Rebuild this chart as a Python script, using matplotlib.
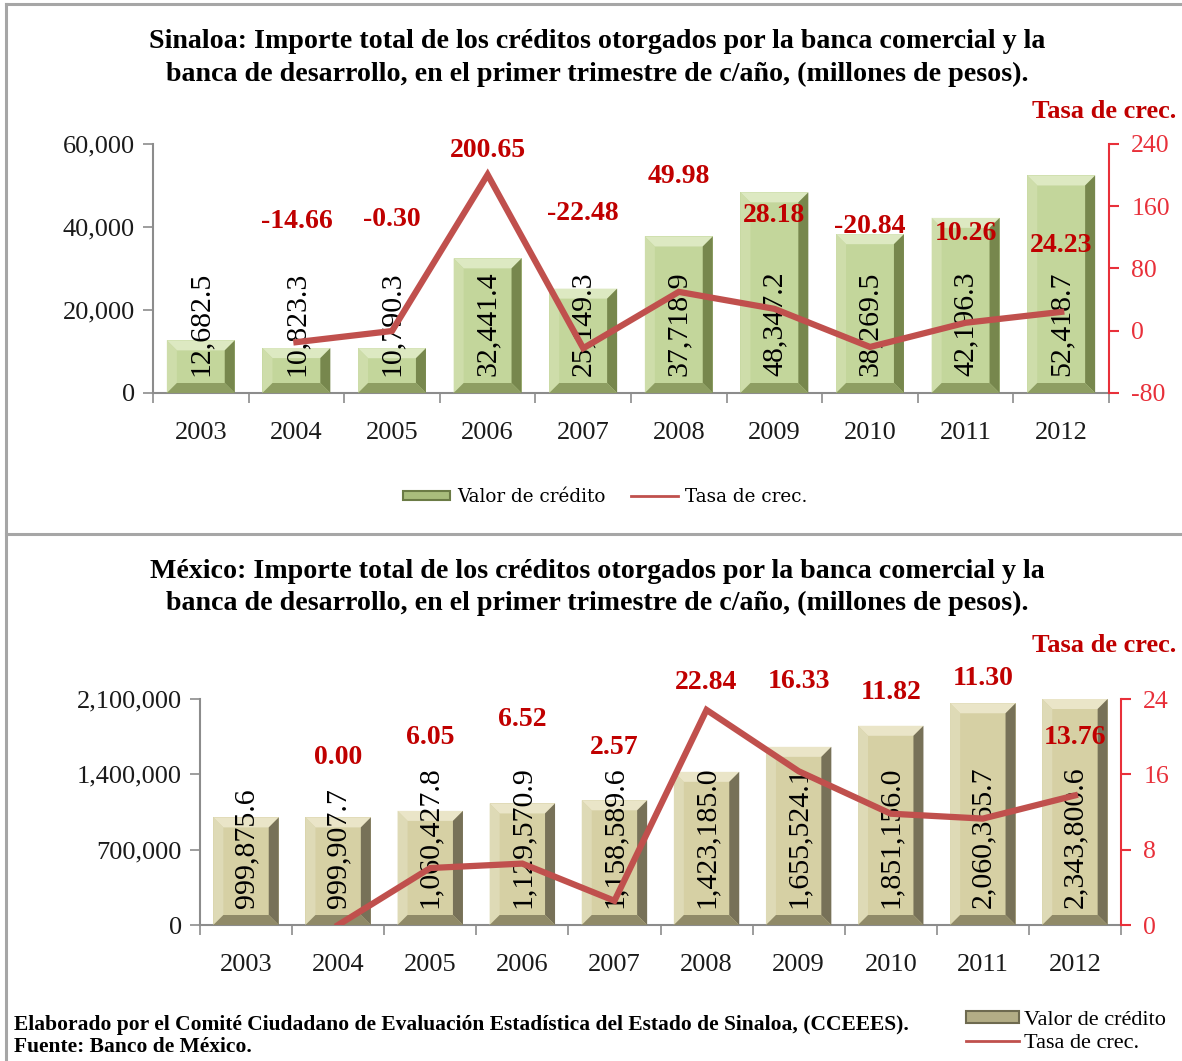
import matplotlib
matplotlib.use('Agg')
import matplotlib.pyplot as plt
from matplotlib.patches import Polygon, Rectangle, Patch
from matplotlib.lines import Line2D
from matplotlib.ticker import FuncFormatter

plt.rcParams['font.family'] = ['Liberation Serif', 'DejaVu Serif']

years = ['2003', '2004', '2005', '2006', '2007', '2008', '2009', '2010', '2011', '2012']

# Sinaloa
sin_credito = [12682.5, 10823.3, 10790.3, 32441.4, 25149.3, 37718.9, 48347.2, 38269.5, 42196.3, 52418.7]
sin_tasa = [None, -14.66, -0.30, 200.65, -22.48, 49.98, 28.18, -20.84, 10.26, 24.23]
sin_tasa_lbl = ['', '-14.66', '-0.30', '200.65', '-22.48', '49.98', '28.18', '-20.84', '10.26', '24.23']

# Mexico
mex_credito = [999875.6, 999907.7, 1060427.8, 1129570.9, 1158589.6, 1423185.0, 1655524.1, 1851156.0, 2060365.7, 2343800.6]
mex_tasa = [None, 0.00, 6.05, 6.52, 2.57, 22.84, 16.33, 11.82, 11.30, 13.76]
mex_tasa_lbl = ['', '0.00', '6.05', '6.52', '2.57', '22.84', '16.33', '11.82', '11.30', '13.76']

# where the growth labels sit (right-axis units)
sin_lbl_y = [None, 141, 143.6, 232, 151, 197.6, 148.7, 134.6, 125.6, 110]
mex_lbl_y = [None, 17.8, 19.9, 21.8, 18.8, 25.8, 25.9, 24.7, 26.2, 19.9]

W, H = 1182, 1061
fig = plt.figure(figsize=(W / 100, H / 100), dpi=100)

RED_LINE = '#C0504D'
RED_LBL = '#C00000'
RED_AX = '#E8303A'
GRAY = '#8C8C8C'
TXT = '#1A1A1A'

green = dict(face='#C3D69B', top='#DDE9C2', left='#CEDDAA', right='#77874D', bottom='#8E9E62')
khaki = dict(face='#D6D0A4', top='#EAE5C8', left='#DEDAB6', right='#777158', bottom='#908A68')


def px_box(l, t, r, b):
    return [l / W, 1 - b / H, (r - l) / W, (b - t) / H]


def bevel_bars(ax, vals, ymax, cols, bw=0.71, bev=10):
    pos = ax.get_position()
    dx = bev * 10 / (pos.width * W)
    dy = bev * ymax / (pos.height * H)
    for i, v in enumerate(vals):
        x0 = i + 0.5 - bw / 2
        x1 = x0 + bw
        y0 = 0
        y1 = min(v, ymax)
        ax.add_patch(Rectangle((x0, y0), bw, y1 - y0, facecolor=cols['face'], edgecolor='none', zorder=2))
        ix0, ix1, iy0, iy1 = x0 + dx, x1 - dx, y0 + dy, y1 - dy
        parts = [
            ([(x0, y1), (x1, y1), (ix1, iy1), (ix0, iy1)], cols['top']),
            ([(x0, y0), (x0, y1), (ix0, iy1), (ix0, iy0)], cols['left']),
            ([(x1, y0), (x1, y1), (ix1, iy1), (ix1, iy0)], cols['right']),
            ([(x0, y0), (x1, y0), (ix1, iy0), (ix0, iy0)], cols['bottom']),
        ]
        for pts, c in parts:
            ax.add_patch(Polygon(pts, closed=True, facecolor=c, edgecolor='none', zorder=3))
        ax.annotate(f'{v:,.1f}', xy=(i + 0.5, 0), xytext=(0, 12), textcoords='offset points',
                    rotation=90, ha='center', va='bottom', fontsize=21.5, color='black', zorder=5)


def make_chart(box, vals, tasa, tasa_lbl, lbl_y, ymax, yticks, rlim, rticks, cols, lw):
    ax = fig.add_axes(box)
    ax.set_xlim(0, 10)
    ax.set_ylim(0, ymax)
    ax.set_yticks(yticks)
    ax.yaxis.set_major_formatter(FuncFormatter(lambda v, p: f'{v:,.0f}'))
    ax.set_xticks(range(11))
    ax.set_xticklabels([])
    ax.set_xticks([i + 0.5 for i in range(10)], minor=True)
    ax.set_xticklabels(years, minor=True)
    ax.tick_params(axis='x', which='minor', length=0, labelsize=19, labelcolor=TXT, pad=21)
    ax.tick_params(axis='x', which='major', length=7, width=1.2, color=GRAY, direction='out')
    ax.tick_params(axis='y', length=7, width=1.2, color=GRAY, labelsize=19, labelcolor=TXT, pad=6)
    for s in ['top', 'right']:
        ax.spines[s].set_visible(False)
    for s in ['left', 'bottom']:
        ax.spines[s].set_color(GRAY)
        ax.spines[s].set_linewidth(1.5)
    bevel_bars(ax, vals, ymax, cols)

    ax2 = ax.twinx()
    ax2.set_ylim(*rlim)
    ax2.set_yticks(rticks)
    ax2.yaxis.set_major_formatter(FuncFormatter(lambda v, p: f'{v:.0f}'))
    ax2.tick_params(axis='y', length=7, width=1.5, color=RED_AX, labelsize=18.5, labelcolor=RED_AX, pad=9)
    for s in ['top', 'left', 'bottom']:
        ax2.spines[s].set_visible(False)
    ax2.spines['right'].set_color(RED_AX)
    ax2.spines['right'].set_linewidth(1.5)
    xs = [i + 0.5 for i, t in enumerate(tasa) if t is not None]
    ys = [t for t in tasa if t is not None]
    ax2.plot(xs, ys, color=RED_LINE, lw=lw, solid_joinstyle='miter', zorder=6)
    for i, t in enumerate(tasa_lbl):
        if t:
            ax2.text(i + 0.5, lbl_y[i], t, ha='center', va='center', fontsize=20,
                     fontweight='bold', color=RED_LBL, zorder=7)
    return ax, ax2


# panel borders
border = dict(color='#A6A6A6', lw=2.2, transform=fig.transFigure)
fig.add_artist(Line2D([6 / W, 6 / W], [0, 1 - 4 / H], **border))
fig.add_artist(Line2D([6 / W, 1], [1 - 4 / H, 1 - 4 / H], **border))
fig.add_artist(Line2D([6 / W, 1], [1 - 534 / H, 1 - 534 / H], **border))

TFS = 20.2
# top chart
fig.text(597 / W, 1 - 42 / H, 'Sinaloa: Importe total de los créditos otorgados por la banca comercial y la',
         ha='center', va='center', fontsize=TFS, fontweight='bold')
fig.text(597 / W, 1 - 74 / H, 'banca de desarrollo, en el primer trimestre de c/año, (millones de pesos).',
         ha='center', va='center', fontsize=TFS, fontweight='bold')
fig.text(1176 / W, 1 - 111 / H, 'Tasa de crec.', ha='right', va='center', fontsize=19,
         fontweight='bold', color=RED_LBL)
make_chart(px_box(153, 144, 1109, 393), sin_credito, sin_tasa, sin_tasa_lbl, sin_lbl_y,
           60000, [0, 20000, 40000, 60000], (-80, 240), [-80, 0, 80, 160, 240], green, 4.5)

top_handles = [Patch(facecolor='#A9BD7C', edgecolor='#6B7B45', lw=1.5),
               Line2D([], [], color=RED_LINE, lw=2)]
fig.legend(top_handles, ['Valor de crédito', 'Tasa de crec.'], loc='center',
           bbox_to_anchor=(605 / W, 1 - 497 / H), ncol=2, frameon=False,
           prop={'family': 'DejaVu Serif', 'size': 13.2}, handlelength=2.6, handleheight=0.45,
           columnspacing=1.4, handletextpad=0.35)

# bottom chart
fig.text(597 / W, 1 - 572 / H, 'México: Importe total de los créditos otorgados por la banca comercial y la',
         ha='center', va='center', fontsize=TFS, fontweight='bold')
fig.text(597 / W, 1 - 603 / H, 'banca de desarrollo, en el primer trimestre de c/año, (millones de pesos).',
         ha='center', va='center', fontsize=TFS, fontweight='bold')
fig.text(1176 / W, 1 - 646 / H, 'Tasa de crec.', ha='right', va='center', fontsize=19,
         fontweight='bold', color=RED_LBL)
make_chart(px_box(200, 699, 1121, 925), mex_credito, mex_tasa, mex_tasa_lbl, mex_lbl_y,
           2100000, [0, 700000, 1400000, 2100000], (0, 24), [0, 8, 16, 24], khaki, 4.5)

fig.text(14 / W, 1 - 1025 / H,
         'Elaborado por el Comité Ciudadano de Evaluación Estadística del Estado de Sinaloa, (CCEEES).',
         ha='left', va='center', fontsize=15.5, fontweight='bold')
fig.text(14 / W, 1 - 1047 / H, 'Fuente: Banco de México.', ha='left', va='center',
         fontsize=15.5, fontweight='bold')

bot_handles = [Patch(facecolor='#B3AD86', edgecolor='#6E6A50', lw=1.5),
               Line2D([], [], color=RED_LINE, lw=2)]
fig.legend(bot_handles, ['Valor de crédito', 'Tasa de crec.'], loc='center left',
           bbox_to_anchor=(950 / W, 1 - 1032 / H), ncol=1, frameon=False,
           prop={'size': 16}, handlelength=2.4, handleheight=0.45, handletextpad=0.25,
           labelspacing=0.2, borderpad=0.2)

fig.savefig('out.png', dpi=100)
